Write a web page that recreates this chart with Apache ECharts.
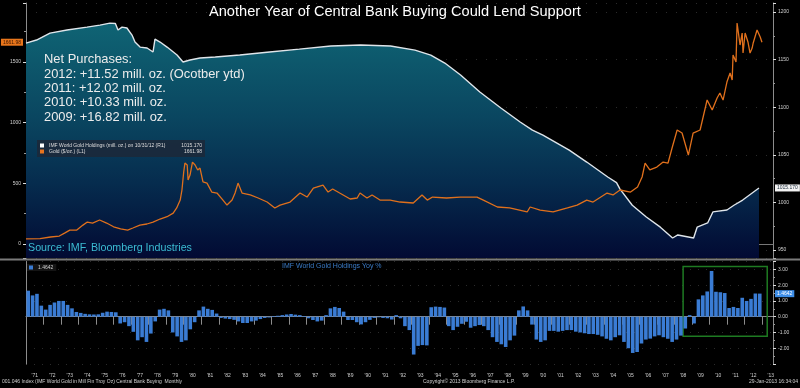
<!DOCTYPE html>
<html><head><meta charset="utf-8">
<script src="https://cdn.jsdelivr.net/npm/echarts@6/dist/echarts.min.js"></script>
<style>html,body{margin:0;padding:0;background:#000}#c{width:800px;height:388px}</style>
</head><body><div id="c"></div>
<script>
// ---------- DATA ----------
const chartTitle = 'Another Year of Central Bank Buying Could Lend Support';
const holdName = 'IMF World Gold Holdings (mill. oz.) on 10/31/12 (R1)';
const goldName = 'Gold ($/oz.) (L1)';
const yoyName = 'IMF World Gold Holdings Yoy %';
const sourceText = 'Source: IMF, Bloomberg Industries';
const footerLeft = '001.046 Index (IMF World Gold in Mill Fin Troy Oz) Central Bank Buying  Monthly';
const footerCenter = 'Copyright\u00A9 2013 Bloomberg Finance L.P.';
const footerRight = '29-Jan-2013 16:34:04';

const netYears = ['2012', '2011', '2010', '2009'];
const netAmounts = ['+11.52', '+12.02', '+10.33', '+16.82'];
const netNotes = [' (Ocotber ytd)', '', '', ''];

// IMF world gold holdings, mill. oz (right axis)
const holdYears = [1971.0,1971.6,1972.37,1973.34,1974.48,1975.22,1975.79,1976.1,1976.25,1976.48,
  1976.76,1977.05,1977.22,1977.51,1977.91,1978.25,1978.36,1978.65,1979.05,1979.62,
  1979.96,1980.36,1980.93,1981.8,1983.2,1984.9,1986.6,1988.4,1990.1,1991.8,
  1993.2,1994.1,1994.9,1995.8,1996.9,1998.1,1999.2,1999.9,2000.5,2002.0,
  2003.0,2004.2,2004.7,2004.9,2005.6,2006.4,2007.2,2007.9,2008.2,2009.1,
  2009.3,2009.9,2010.2,2011.0,2011.4,2011.9,2012.83];
const holdVals = [1167.4,1170.6,1177.9,1181.1,1184.2,1186.3,1188.4,1188.0,1181.1,1184.2,
  1183.2,1175.8,1168.5,1163.2,1162.2,1158.0,1171.6,1168.5,1163.2,1154.8,
  1147.5,1149.6,1151.7,1152.7,1154.8,1158,1161,1164.3,1165.3,1164.3,
  1160,1154.8,1146.4,1133.8,1116,1099.2,1084.5,1076,1070.8,1055,
  1042.4,1026.7,1020.8,1014,997,984.7,974,962.6,965.8,962.6,
  974,978.4,990,992,997,1002.5,1015.17];

// Gold, $/oz (left axis)
const goldYears = [1971.0,1971.8,1972.4,1972.9,1973.2,1973.5,1973.9,1974.25,1974.5,1974.8,
  1975.2,1975.6,1976.0,1976.4,1976.8,1977.1,1977.5,1977.9,1978.25,1978.65,
  1979.05,1979.4,1979.6,1979.8,1979.9,1980.0,1980.07,1980.2,1980.25,1980.36,
  1980.5,1980.65,1980.8,1980.93,1981.1,1981.33,1981.6,1981.9,1982.24,1982.47,
  1982.76,1982.93,1983.1,1983.33,1983.8,1984.25,1984.76,1985.2,1985.5,1986.07,
  1986.64,1987.04,1987.4,1987.95,1988.24,1988.5,1988.9,1989.5,1989.9,1990.06,
  1990.46,1990.75,1991.2,1991.78,1992.35,1993.1,1993.6,1993.9,1994.2,1995.0,
  1995.77,1996.74,1997.1,1997.9,1998.6,1999.6,1999.77,2000.34,2001.08,2001.9,
  2002.45,2003.0,2003.36,2004.16,2004.5,2004.9,2005.5,2005.9,2006.16,2006.33,
  2006.6,2007.0,2007.36,2007.64,2007.87,2008.16,2008.44,2008.8,2009.07,2009.47,
  2009.87,2010.16,2010.44,2010.6,2010.78,2011.0,2011.18,2011.3,2011.35,2011.52,
  2011.58,2011.75,2011.87,2011.92,2012.04,2012.2,2012.32,2012.44,2012.5,2012.72,
  2012.9,2013.0];
const goldPrices = [42,45,58,66,90,115,115,156,181,173,
  198,173,142,124,115,132,156,165,181,206,
  225,255,297,362,445,593,667,651,527,568,
  675,651,610,626,511,502,428,420,362,321,
  362,420,502,420,404,379,346,297,321,346,
  420,387,461,486,428,453,420,371,379,420,
  379,404,362,362,346,338,404,362,387,379,
  387,387,362,305,297,264,305,280,264,297,
  321,362,346,420,404,445,428,470,552,667,
  610,634,675,667,791,939,914,733,914,939,
  1186,1104,1203,1244,1186,1334,1409,1351,1557,1499,
  1820,1639,1738,1573,1738,1664,1573,1614,1656,1763,
  1705,1661.98];

// IMF world gold holdings YoY %, one value per quarter from 1971 Q1
const yoyStartYear = 1971;
const yoyQuarterly = [
  1.65,1.35,1.45,0.7,   0.45,0.75,0.9,1.0,    1.0,0.75,0.53,0.3,    0.24,0.18,0.15,0.14,
  0.15,0.25,0.32,0.3,   0.28,-0.43,-0.35,-0.6, -0.96,-1.5,-1.3,-1.6, -1.07,-0.3,0.45,0.5,
  0.4,-1.0,-1.25,-1.6,  -1.5,-0.8,-0.35,0.4,  0.64,0.5,0.43,0.2,    -0.08,-0.12,-0.15,-0.2,
  -0.3,-0.4,-0.4,-0.3,  -0.25,-0.15,-0.08,-0.05, 0.04,0.06,0.1,0.14, 0.17,0.13,0.1,0.04,
  -0.1,-0.21,-0.3,-0.25, 0.1,0.53,0.62,0.55, 0.32,-0.21,-0.21,-0.35, -0.49,-0.35,-0.2,-0.08,
  -0.04,-0.08,-0.1,-0.18, 0.1,-0.1,-0.6,-0.85, -2.4,-1.85,-1.8,-1.82, 0.6,0.64,0.62,0.58,
  -0.6,-0.85,-0.64,-0.45, -0.32,-0.7,-0.6,-0.53, -0.6,-0.85,-1.3,-1.6, -1.75,-1.92,-1.5,-1.2,
  0.4,0.65,0.4,-0.5,    -1.45,-1.6,-1.5,-0.9, -0.9,-0.95,-0.9,-0.85, -0.85,-0.95,-1.0,-1.05,
  -1.1,-1.1,-1.15,-1.25, -1.4,-1.5,-1.3,-1.18, -1.6,-2.0,-2.3,-2.24, -1.7,-1.45,-1.39,-1.25,
  -1.18,-1.3,-1.4,-1.6, -1.45,-1.2,-0.75,0.1, -0.43,1.1,1.35,1.6,   2.9,1.58,1.55,1.5,
  0.55,0.62,0.55,1.2,   1.0,1.13,1.47,1.4642];

// highlighted period in the lower panel: [fromYear, topValue, toYear, bottomValue]
const highlightBox = [2008.5, 3.19, 2013.3, -1.24];

// ---------- CHART ----------
const FONT = 'Liberation Sans, Arial, sans-serif';
const X_MIN = 1971, X_MAX = 2013.63;
const holdData = holdYears.map((y, i) => [y, holdVals[i]]);
const goldData = goldYears.map((y, i) => [y, goldPrices[i]]);
const yoyData = yoyQuarterly.map((v, i) => [yoyStartYear + (i + 0.5) / 4, v]);
const holdLast = holdVals[holdVals.length - 1];
const goldLast = goldPrices[goldPrices.length - 1];
const yoyLast = yoyQuarterly[yoyQuarterly.length - 1];

const netText = ['Net Purchases:'].concat(netYears.map((y, i) =>
  y + ': ' + netAmounts[i] + ' mill. oz.' + netNotes[i])).join('\n');

const smallText = { color: '#d0d0d0', fontSize: 5, fontFamily: FONT };
const axisLineStyle = { color: '#8c8c8c', width: 1 };

const chart = echarts.init(document.getElementById('c'));
chart.setOption({
  backgroundColor: '#000',
  animation: false,
  title: [
    { text: chartTitle, left: 209, top: 4, padding: 0,
      textStyle: { color: '#ffffff', fontSize: 14.6, fontWeight: 'normal', fontFamily: FONT, lineHeight: 16 } },
    { text: netText, left: 44, top: 52.5, padding: 0,
      textStyle: { color: '#ececec', fontSize: 12.9, fontWeight: 'normal', fontFamily: FONT, lineHeight: 14.4 } },
    { text: sourceText, left: 28, top: 242, padding: 0,
      textStyle: { color: '#3bbcd3', fontSize: 10.7, fontWeight: 'normal', fontFamily: FONT, lineHeight: 12 } },
    { text: yoyName, left: 282, top: 263, padding: 0,
      textStyle: { color: '#3b7cc8', fontSize: 7, fontWeight: 'normal', fontFamily: FONT } },
    { text: footerLeft, left: 2, top: 379, padding: 0,
      textStyle: Object.assign({}, smallText, { fontWeight: 'normal' }) },
    { text: footerCenter, left: 423, top: 379, padding: 0,
      textStyle: Object.assign({}, smallText, { fontWeight: 'normal' }) },
    { text: footerRight, right: 2, top: 379, padding: 0,
      textStyle: Object.assign({}, smallText, { fontWeight: 'normal' }) }
  ],
  legend: [
    { data: [holdName, goldName], left: 37, top: 140, orient: 'vertical', selectedMode: false,
      icon: 'rect', itemWidth: 4, itemHeight: 4, itemGap: 1, padding: [3, 3, 3, 3],
      backgroundColor: 'rgba(28,40,56,0.85)',
      formatter: n => '{n|' + n + '}{v|' + (n === holdName ? holdLast.toFixed(3) : goldLast.toFixed(2)) + '}',
      textStyle: { color: '#dddddd', fontSize: 5, fontFamily: FONT,
        rich: { n: { width: 131, fontSize: 5, lineHeight: 6, color: '#dddddd', fontFamily: FONT },
                v: { width: 22, align: 'right', fontSize: 5, lineHeight: 6, color: '#dddddd', fontFamily: FONT } } } },
    { data: [yoyName], left: 27, top: 264, selectedMode: false, icon: 'rect',
      itemWidth: 4, itemHeight: 4, itemGap: 2, padding: [1, 3, 1, 2], backgroundColor: '#141414',
      formatter: () => yoyLast.toFixed(4),
      textStyle: { color: '#d0d0d0', fontSize: 5, fontFamily: FONT } }
  ],
  grid: [
    { left: 26, right: 27, top: 3, height: 255 },
    { left: 26, right: 27, top: 261.5, height: 102.5 }
  ],
  xAxis: [
    { gridIndex: 0, type: 'value', min: X_MIN, max: X_MAX, position: 'top',
      axisLine: { show: true, lineStyle: { color: '#777', width: 1 } },
      axisTick: { show: false }, axisLabel: { show: false }, splitLine: { show: false } },
    { gridIndex: 1, type: 'value', min: X_MIN, max: X_MAX, interval: 1, position: 'bottom',
      axisLine: { show: true, lineStyle: axisLineStyle },
      axisTick: { show: true, length: 8, lineStyle: { color: '#8c8c8c' } },
      axisLabel: Object.assign({}, smallText, {
        margin: 9, align: 'center', padding: [0, 0, 0, 17.5],
        formatter: v => {
          const r = Math.round(v);
          if (Math.abs(v - r) > 1e-6 || r > 2013) return '';
          return "'" + String(r).slice(2);
        } }),
      splitLine: { show: false } }
  ],
  yAxis: [
    { gridIndex: 0, type: 'value', position: 'left', min: -115, max: 1985,
      axisLine: { show: true, lineStyle: axisLineStyle },
      axisTick: { show: true, length: 3, lineStyle: { color: '#dddddd' } },
      minorTick: { show: true, splitNumber: 2, length: 2, lineStyle: { color: '#999' } },
      axisLabel: Object.assign({}, smallText, { margin: 5,
        formatter: v => (v >= 0 && Math.abs(v % 500) < 1e-6) ? String(v) : '' }),
      splitLine: { show: false } },
    { gridIndex: 0, type: 'value', position: 'right', min: 941.6, max: 1209.5,
      axisLine: { show: true, lineStyle: axisLineStyle },
      axisTick: { show: true, length: 3, lineStyle: { color: '#dddddd' } },
      minorTick: { show: true, splitNumber: 2, length: 2, lineStyle: { color: '#999' } },
      axisLabel: Object.assign({}, smallText, { margin: 5,
        formatter: v => (Math.abs(v % 50) < 1e-6) ? String(v) : '' }),
      splitLine: { show: true, lineStyle: { color: '#2b2b2b', type: [1, 9] } } },
    { gridIndex: 1, type: 'value', position: 'right', min: -3, max: 3.5, interval: 1,
      axisLine: { show: true, lineStyle: axisLineStyle },
      axisTick: { show: true, length: 3, lineStyle: { color: '#dddddd' } },
      minorTick: { show: true, splitNumber: 2, length: 2, lineStyle: { color: '#999' } },
      axisLabel: Object.assign({}, smallText, { margin: 5,
        formatter: v => (Math.abs(v - Math.round(v)) < 1e-6 && v >= -2 && v <= 3) ? v.toFixed(2) : '' }),
      splitLine: { show: true, lineStyle: { color: '#2b2b2b', type: [1, 7] } } },
    { gridIndex: 1, type: 'value', position: 'left', min: -3, max: 3.5,
      axisLine: { show: true, lineStyle: axisLineStyle },
      axisTick: { show: false }, axisLabel: { show: false }, splitLine: { show: false } }
  ],
  series: [
    { name: holdName, type: 'line', xAxisIndex: 0, yAxisIndex: 1, data: holdData,
      showSymbol: false, symbol: 'none', z: 2,
      itemStyle: { color: '#ffffff' },
      lineStyle: { color: '#dfe5ea', width: 1.4 },
      areaStyle: { opacity: 1, color: { type: 'linear', x: 0, y: 0, x2: 0, y2: 1, colorStops: [
        { offset: 0, color: '#0f6474' }, { offset: 0.4, color: '#0a4660' },
        { offset: 0.68, color: '#062c4e' }, { offset: 1, color: '#020a33' } ] } },
      emphasis: { disabled: true },
      markLine: { silent: true, symbol: ['none', 'none'],
        lineStyle: { color: 'rgba(0,0,0,0)', width: 0 },
        label: { show: true, position: 'end', distance: 2, formatter: holdLast.toFixed(3),
          backgroundColor: '#f2f2f2', color: '#1a2a3a', fontSize: 5, fontFamily: FONT, padding: [1, 2, 1, 2] },
        data: [{ yAxis: holdLast }] } },
    { name: goldName, type: 'line', xAxisIndex: 0, yAxisIndex: 0, data: goldData,
      showSymbol: false, symbol: 'none', z: 3,
      itemStyle: { color: '#e8741e' },
      lineStyle: { color: '#e0701c', width: 1.3 },
      emphasis: { disabled: true },
      markLine: { silent: true, symbol: ['none', 'none'],
        lineStyle: { color: 'rgba(0,0,0,0)', width: 0 },
        label: { show: true, position: 'start', distance: 3, formatter: goldLast.toFixed(2),
          backgroundColor: '#e8761c', color: '#3a1600', fontSize: 5, fontFamily: FONT, padding: [1, 2, 1, 2] },
        data: [{ yAxis: goldLast }] } },
    { name: yoyName, type: 'bar', xAxisIndex: 1, yAxisIndex: 2, data: yoyData,
      barWidth: 3.6, itemStyle: { color: '#3a7cd4' }, emphasis: { disabled: true },
      markArea: { silent: true,
        itemStyle: { color: 'rgba(0,0,0,0)', borderColor: '#1e7a22', borderWidth: 1.5 },
        data: [[{ xAxis: highlightBox[0], yAxis: highlightBox[1] }, { xAxis: highlightBox[2], yAxis: highlightBox[3] }]] },
      markLine: { silent: true, symbol: ['none', 'none'],
        lineStyle: { color: 'rgba(0,0,0,0)', width: 0 },
        label: { show: true, position: 'end', distance: 2, formatter: yoyLast.toFixed(4),
          backgroundColor: '#3d8ee8', color: '#ffffff', fontSize: 5, fontFamily: FONT, padding: [1, 2, 1, 2] },
        data: [{ yAxis: yoyLast }] } }
  ],
  graphic: [
    { type: 'rect', silent: true, z: 10, shape: { x: 0, y: 258.5, width: 800, height: 2 }, style: { fill: '#7a7a7a' } }
  ]
});
</script>
</body></html>
